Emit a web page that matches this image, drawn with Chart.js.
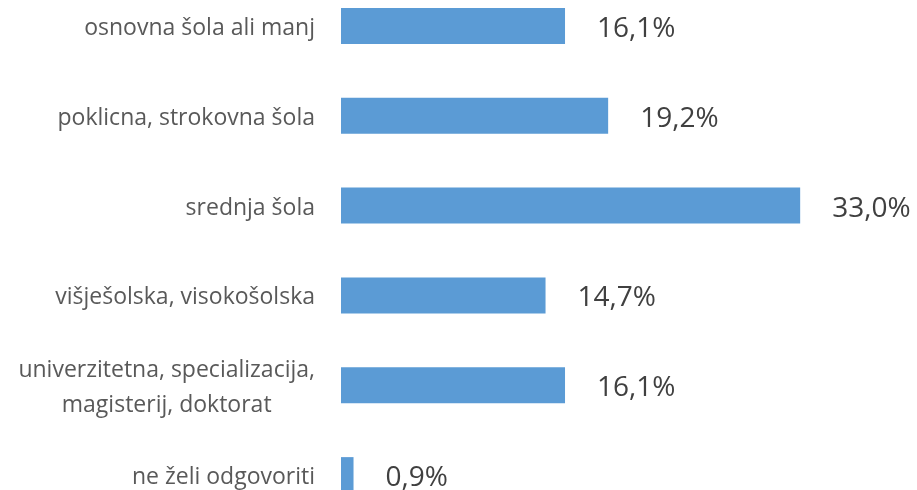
<!DOCTYPE html>
<html>
<head>
<meta charset="utf-8">
<script src="https://cdn.jsdelivr.net/npm/chart.js"></script>
<style>
  html, body { margin:0; padding:0; background:#fff; overflow:hidden; width:917px; height:490px; }
  #wrap { position:absolute; left:0; top:-19px; width:917px; height:539px; }
</style>
</head>
<body>
<div id="wrap"><canvas id="eduChart"></canvas></div>
<script>
// ---------- data ----------
const categories = [
  ["osnovna šola ali manj"],
  ["poklicna, strokovna šola"],
  ["srednja šola"],
  ["višješolska, visokošolska"],
  ["univerzitetna, specializacija,", "magisterij, doktorat"],
  ["ne želi odgovoriti"],
];
const shares = [16.1, 19.2, 33.0, 14.7, 16.1, 0.9];
const xMax = 35;

const fontFamily = "'Open Sans', sans-serif";

function fmtPct(v) {
  return v.toFixed(1).replace(".", ",") + "%";
}

// category labels (multi-line blocks: right aligned, lines centred)
const categoryLabels = {
  id: "categoryLabels",
  afterDraw(chart) {
    const ctx = chart.ctx, yScale = chart.scales.y;
    const right = chart.chartArea.left - 26;
    const lineH = 35;
    ctx.save();
    ctx.font = "23px " + fontFamily;
    ctx.fillStyle = "#595959";
    ctx.textBaseline = "alphabetic";
    categories.forEach((lines, i) => {
      const cy = yScale.getPixelForValue(i);
      const blockW = Math.max(...lines.map(l => ctx.measureText(l).width));
      const cx = right - blockW / 2;
      ctx.textAlign = "center";
      lines.forEach((l, j) => {
        const by = cy + 9 + (j - (lines.length - 1) / 2) * lineH;
        ctx.fillText(l, cx, by);
      });
    });
    ctx.restore();
  }
};

// value labels right of each bar
const valueLabels = {
  id: "valueLabels",
  afterDatasetsDraw(chart) {
    const ctx = chart.ctx;
    const meta = chart.getDatasetMeta(0);
    ctx.save();
    ctx.font = "28px " + fontFamily;
    ctx.fillStyle = "#404040";
    ctx.textAlign = "left";
    ctx.textBaseline = "alphabetic";
    meta.data.forEach((bar, i) => {
      ctx.fillText(fmtPct(shares[i]), bar.x + 32, bar.y + 11);
    });
    ctx.restore();
  }
};

new Chart(document.getElementById("eduChart").getContext("2d"), {
  type: "bar",
  data: {
    labels: categories,
    datasets: [{
      data: shares,
      backgroundColor: "#5b9bd5",
      borderWidth: 0,
      barPercentage: 0.4,
      categoryPercentage: 1.0,
    }],
  },
  options: {
    indexAxis: "y",
    responsive: true,
    maintainAspectRatio: false,
    animation: false,
    layout: { padding: { left: 341, right: 89, top: 0, bottom: 0 } },
    plugins: { legend: { display: false }, tooltip: { enabled: false } },
    scales: {
      x: { min: 0, max: xMax, display: false },
      y: { display: false },
    },
  },
  plugins: [categoryLabels, valueLabels],
});
</script>
</body>
</html>
